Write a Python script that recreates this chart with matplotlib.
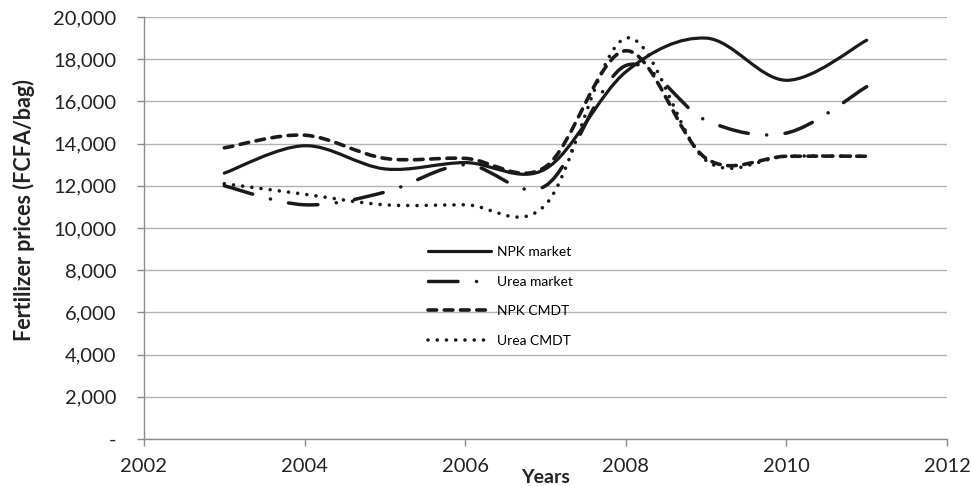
import numpy as np
import matplotlib
matplotlib.use('Agg')
import matplotlib.pyplot as plt
from matplotlib.path import Path
from matplotlib.patches import PathPatch
from matplotlib.lines import Line2D
from matplotlib.ticker import FuncFormatter, MultipleLocator

plt.rcParams['font.family'] = ['Lato', 'DejaVu Sans']

# Fertilizer prices per bag (FCFA)
years = [2003, 2004, 2005, 2006, 2007, 2008, 2009, 2010, 2011]
npk_market = [12600, 13900, 12800, 13100, 12800, 17400, 19000, 17000, 18900]
urea_market = [12000, 11100, 11700, 13000, 12000, 17700, 15100, 14500, 16700]
npk_cmdt = [13800, 14400, 13300, 13300, 12900, 18400, 13300, 13400, 13400]
urea_cmdt = [12100, 11600, 11100, 11100, 11100, 19000, 13200, 13400, 13400]

series_names = ['NPK market', 'Urea market', 'NPK CMDT', 'Urea CMDT']


def smooth_path(x, y):
    # Bezier segments through every point (Catmull-Rom style control points)
    pts = np.column_stack([x, y]).astype(float)
    n = len(pts)
    verts = [pts[0]]
    codes = [Path.MOVETO]
    for i in range(n - 1):
        p0 = pts[max(i - 1, 0)]
        p1 = pts[i]
        p2 = pts[i + 1]
        p3 = pts[min(i + 2, n - 1)]
        verts += [p1 + (p2 - p0) / 6, p2 - (p3 - p1) / 6, p2]
        codes += [Path.CURVE4] * 3
    return Path(verts, codes)


ink = '#1a1a1a'
styles = [
    dict(lw=2.3, ls='-'),
    dict(lw=2.5, ls=(0, (8.5, 5.3, 0.05, 5.3))),
    dict(lw=2.6, ls=(0, (2.4, 2.1))),
    dict(lw=2.6, ls=(0, (0.01, 2.55))),
]

fig = plt.figure(figsize=(9.71, 4.86), dpi=100)
ax = fig.add_axes([0.1483, 0.0967, 0.827, 0.8683])

handles = []
for vals, st, name in zip([npk_market, urea_market, npk_cmdt, urea_cmdt], styles, series_names):
    patch = PathPatch(smooth_path(years, vals), fill=False, edgecolor=ink,
                      lw=st['lw'], linestyle=st['ls'], capstyle='round',
                      joinstyle='round', zorder=3)
    ax.add_patch(patch)
    handles.append(Line2D([], [], color=ink, lw=st['lw'], linestyle=st['ls'],
                          dash_capstyle='round', solid_capstyle='round', label=name))

ax.set_xlim(2002, 2012)
ax.set_ylim(0, 20000)
ax.xaxis.set_major_locator(MultipleLocator(2))
ax.yaxis.set_major_locator(MultipleLocator(2000))
ax.yaxis.set_major_formatter(FuncFormatter(lambda v, p: '-' if v == 0 else f'{v:,.0f}'))

ax.grid(axis='y', color='#b3b3b3', lw=1.0)
ax.set_axisbelow(True)
for s in ['top', 'right']:
    ax.spines[s].set_visible(False)
for s in ['left', 'bottom']:
    ax.spines[s].set_color('#8c8c8c')
    ax.spines[s].set_linewidth(1.0)
ax.tick_params(axis='both', colors='#8c8c8c', length=5, width=1.0,
               labelsize=14.5, labelcolor='#222222')
ax.tick_params(axis='y', pad=15)
ax.tick_params(axis='x', pad=9)

ax.set_ylabel('Fertilizer prices (FCFA/bag)', fontsize=15.5, fontweight='bold',
              color='#222222')
ax.yaxis.set_label_coords(-0.136, 0.543)
ax.set_xlabel('Years', fontsize=14, fontweight='bold', color='#222222')
ax.xaxis.set_label_coords(0.5, -0.071)

ax.legend(handles=handles, loc='upper left', bbox_to_anchor=(0.354, 0.458),
          frameon=False, fontsize=10, handlelength=4.5, handletextpad=0.45,
          labelspacing=1.28, borderpad=0, borderaxespad=0)

fig.savefig('out.png', dpi=100)
